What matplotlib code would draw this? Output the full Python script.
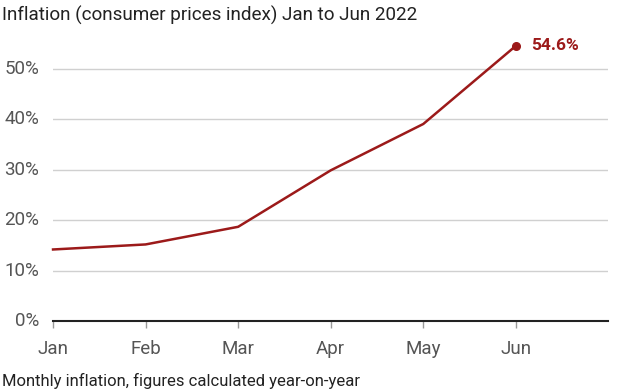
import matplotlib.pyplot as plt

months = ["Jan", "Feb", "Mar", "Apr", "May", "Jun"]
inflation = [14.2, 15.2, 18.7, 29.9, 39.1, 54.6]
yticks = [0, 10, 20, 30, 40, 50]
ytick_labels = ["0%", "10%", "20%", "30%", "40%", "50%"]

RED = "#9c1a1a"
GREY = "#555555"

plt.rcParams["font.family"] = ["Roboto", "DejaVu Sans"]

fig = plt.figure(figsize=(6.24, 3.92), dpi=100)
ax = fig.add_axes([0.085, 0.181, 0.89, 0.72])

x = list(range(len(months)))
ax.plot(x, inflation, color=RED, lw=1.8, clip_on=False, zorder=3)
ax.plot(x[-1], inflation[-1], "o", color=RED, ms=5.5, clip_on=False, zorder=4)
ax.annotate(f"{inflation[-1]}%", (x[-1], inflation[-1]), xytext=(11, 0),
            textcoords="offset points", va="center", ha="left",
            color=RED, fontsize=12.5, fontweight="bold")

ax.set_xlim(0, 6)
ax.set_ylim(0, 56)
ax.set_xticks(x)
ax.set_xticklabels(months)
ax.set_yticks(yticks)
ax.set_yticklabels(ytick_labels)

ax.grid(axis="y", color="#d0d0d0", lw=1)
ax.set_axisbelow(True)
for s in ["top", "right", "left"]:
    ax.spines[s].set_visible(False)
ax.spines["bottom"].set_color("#222222")
ax.spines["bottom"].set_linewidth(1.5)

ax.tick_params(axis="y", length=0, pad=10, labelsize=13.5, labelcolor=GREY)
ax.tick_params(axis="x", length=5, width=1, color="#999999", pad=9,
               labelsize=13.5, labelcolor=GREY)
for lbl in ax.get_yticklabels():
    lbl.set_verticalalignment("center")

fig.text(0.003, 0.96, "Inflation (consumer prices index) Jan to Jun 2022",
         fontsize=13.6, color="#222222", ha="left", va="center")
fig.text(0.003, 0.008, "Monthly inflation, figures calculated year-on-year",
         fontsize=12, color="#222222", ha="left", va="bottom")

fig.savefig("out.png", dpi=100)
